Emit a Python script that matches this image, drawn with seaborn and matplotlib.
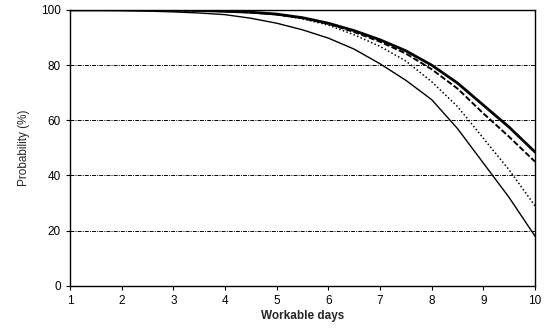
import matplotlib
matplotlib.use("Agg")
import matplotlib.pyplot as plt
import seaborn as sns
import pandas as pd

days = [1, 1.5, 2, 2.5, 3, 3.5, 4, 4.5, 5, 5.5, 6, 6.5, 7, 7.5, 8, 8.5, 9, 9.5, 10]
thick_solid = [100, 100, 100, 99.95, 99.9, 99.8, 99.5, 99.2, 98.5, 97.2, 95.2, 92.5, 89.2, 85.2, 80, 73.5, 65.5, 57.5, 48.5]
dashed = [100, 100, 100, 99.95, 99.9, 99.8, 99.5, 99.1, 98.4, 97.0, 95.0, 92.0, 88.5, 84.2, 78.5, 71.5, 62.5, 54, 45]
dotted = [100, 100, 100, 99.95, 99.9, 99.8, 99.5, 99.0, 98.3, 96.8, 94.5, 91, 86.8, 81.5, 74, 65, 53.5, 42, 29]
thin_solid = [100, 99.9, 99.8, 99.6, 99.3, 98.9, 98.3, 97.0, 95.2, 92.8, 89.8, 85.8, 80.5, 74.5, 67.5, 57, 44.5, 32, 18]

series = {"a": thick_solid, "b": dashed, "c": dotted, "d": thin_solid}
rows = []
for name, vals in series.items():
    for d, v in zip(days, vals):
        rows.append({"day": d, "prob": v, "series": name})
df = pd.DataFrame(rows)

sns.set_style("ticks")
plt.rcParams["font.family"] = ["Liberation Sans", "DejaVu Sans"]

fig = plt.figure(figsize=(5.51, 3.32), dpi=100)
ax = fig.add_axes([0.127, 0.139, 0.844, 0.831])

# line style per curve: thick solid, dashed, dotted, thin solid
styles = {"a": ("-", 2.0), "b": ((0, (3, 1.2)), 1.4), "c": ((0, (1, 1.5)), 1.1), "d": ("-", 1.0)}
for name in series:
    ls, lw = styles[name]
    sns.lineplot(data=df[df["series"] == name], x="day", y="prob", ax=ax,
                 color="black", linestyle=ls, linewidth=lw, legend=False)

for yv in [20, 40, 60, 80]:
    ax.axhline(yv, color="black", linestyle=(0, (4, 1.2, 1, 1.2)), linewidth=0.7)

ax.set_xlim(1, 10)
ax.set_ylim(0, 100)
ax.set_xticks(range(1, 11))
ax.set_yticks([0, 20, 40, 60, 80, 100])
ax.tick_params(labelsize=8.5, length=3, width=0.8, colors="black")
ax.set_xlabel("Workable days", fontsize=8.5, fontweight="bold", labelpad=2)
ax.set_ylabel("Probability (%)", fontsize=8.5, labelpad=8)
for sp in ax.spines.values():
    sp.set_visible(True)
    sp.set_color("black")
    sp.set_linewidth(1.0)

fig.savefig("out.png", dpi=100)
